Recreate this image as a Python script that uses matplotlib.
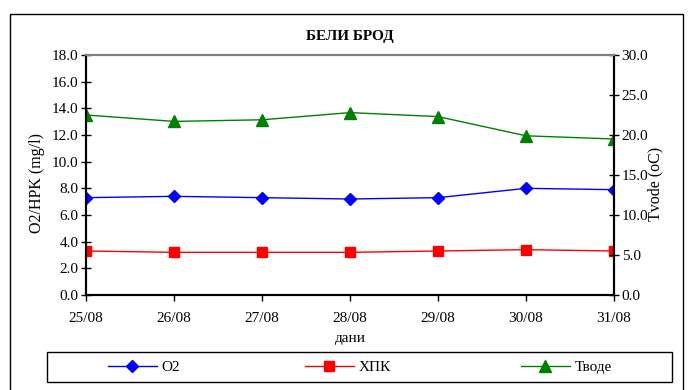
import matplotlib.pyplot as plt
from matplotlib.patches import Rectangle

plt.rcParams['font.family'] = ['Liberation Serif', 'DejaVu Serif']
plt.rcParams['font.size'] = 11

# daily measurements
days = ['25/08', '26/08', '27/08', '28/08', '29/08', '30/08', '31/08']
o2 = [7.3, 7.4, 7.3, 7.2, 7.3, 8.0, 7.9]
hpk = [3.3, 3.2, 3.2, 3.2, 3.3, 3.4, 3.3]
t_vode = [22.5, 21.7, 21.9, 22.8, 22.3, 19.9, 19.5]

W, H = 689, 390
fig = plt.figure(figsize=(W / 100, H / 100), dpi=100)

# outer chart border
fig.patches.append(Rectangle((10 / W, -0.01), 673 / W, 1.01 - 14 / H,
                             transform=fig.transFigure, fill=False,
                             edgecolor='black', linewidth=1.0))

ax = fig.add_axes([86 / W, 1 - 295 / H, 528 / W, 240 / H])
ax2 = ax.twinx()
x = list(range(len(days)))

l1, = ax.plot(x, o2, color='blue', marker='D', markersize=6, linewidth=1,
              label='O2')
l2, = ax.plot(x, hpk, color='red', marker='s', markersize=7, linewidth=1,
              label='ХПК')
l3, = ax2.plot(x, t_vode, color='green', marker='^', markersize=8,
               linewidth=1, label='Тводе')

ax.set_xlim(0, len(days) - 1)
ax.set_ylim(0, 18)
ax2.set_ylim(0, 30)
ax.set_yticks([i * 2.0 for i in range(10)])
ax.set_yticklabels(['%.1f' % (i * 2.0) for i in range(10)])
ax2.set_yticks([i * 5.0 for i in range(7)])
ax2.set_yticklabels(['%.1f' % (i * 5.0) for i in range(7)])
ax.set_xticks(x)
ax.set_xticklabels(days)

for a in (ax, ax2):
    for side in ('top', 'bottom', 'left', 'right'):
        a.spines[side].set_linewidth(1.5)
    a.spines['top'].set_color('#808080')
ax.tick_params(axis='y', direction='inout', length=7, width=1, pad=2)
ax2.tick_params(axis='y', direction='inout', length=7, width=1, pad=2)
ax.tick_params(axis='x', direction='out', length=4, width=1, pad=8)

ax.set_title('БЕЛИ БРОД', fontweight='bold', fontsize=11, pad=11)
ax.set_xlabel('дани', labelpad=5)
ax.set_ylabel('O2/HPK (mg/l)', fontsize=11.5)
ax.yaxis.set_label_coords(-0.078, 0.465)
ax2.set_ylabel('Tvode (oC)', fontsize=11.5)
ax2.yaxis.set_label_coords(1.064, 0.462)

# legend box with three evenly placed entries
fig.patches.append(Rectangle((47 / W, 1 - 382 / H), 625 / W, 30 / H,
                             transform=fig.transFigure, fill=False,
                             edgecolor='black', linewidth=1.0))
for handle, x0 in zip([l1, l2, l3], [108, 305, 521]):
    leg = fig.legend(handles=[handle], loc='center left',
                     bbox_to_anchor=(x0 / W, 1 - 367 / H),
                     frameon=False, handlelength=3.2, handletextpad=0.3,
                     borderaxespad=0, borderpad=0)

fig.savefig('out.png', dpi=100)
